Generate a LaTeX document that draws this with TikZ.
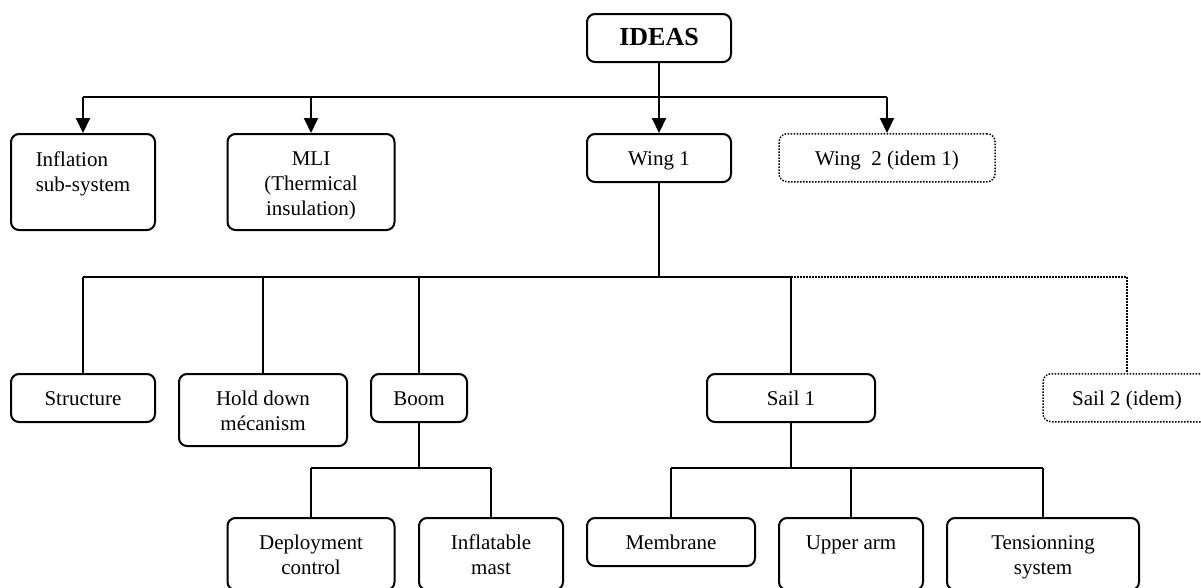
\documentclass[tikz,border=0pt]{standalone}
\usepackage{fontspec}
\setmainfont{Liberation Serif}
\usetikzlibrary{arrows.meta}
\tikzset{
  box/.style={draw, line width=2pt, rounded corners=8pt, anchor=north, align=center,
    inner xsep=4pt, inner ysep=0pt, minimum height=48pt},
  dotbox/.style={box, line width=1.5pt, dash pattern=on 1.5pt off 1.5pt},
  link/.style={line width=2pt},
  dotlink/.style={line width=1.5pt, dash pattern=on 1.5pt off 1.5pt},
  arr/.style={link, -{Triangle[length=15pt,width=14pt]}},
}
\newcommand{\stl}{\rule[-5pt]{0pt}{25pt}}
\newcommand{\stlow}{\rule[-3pt]{0pt}{25pt}}
\begin{document}
\lineskiplimit=-20pt
\begin{tikzpicture}[x=1pt, y=-1pt, font=\fontsize{21}{25}\selectfont]
\useasboundingbox (0,0) rectangle (1201,587);
% top level
\node[box, minimum width=144pt] (ideas) at (659,13) {\fontsize{26}{30}\selectfont\rule[-8pt]{0pt}{30pt}\textbf{IDEAS}};
\node[box, minimum width=144pt, minimum height=96pt, align=left] (infl) at (83,133) {\stlow Inflation\\\stlow sub-system\\\stlow};
\node[box, minimum width=167pt, minimum height=96pt] (mli) at (311,133) {\stlow MLI\\\stlow (Thermical\\\stlow insulation)};
\node[box, minimum width=144pt] (wing1) at (659,133) {\stl Wing 1};
\node[dotbox, minimum width=216pt] (wing2) at (887,133) {\stl Wing\ \ 2 (idem 1)};
% second level
\node[box, minimum width=144pt] (struct) at (83,373) {\stl Structure};
\node[box, minimum width=168pt, minimum height=72pt] (hold) at (263,373) {\stl Hold down\\\stl m\'ecanism};
\node[box, minimum width=96pt] (boom) at (419,373) {\stl Boom};
\node[box, minimum width=168pt] (sail1) at (791,373) {\stl Sail 1};
\node[dotbox, minimum width=168pt] (sail2) at (1127,373) {\stl Sail 2 (idem)};
% third level
\node[box, minimum width=167pt, minimum height=72pt] (deploy) at (311,517) {\stl Deployment\\\stl control};
\node[box, minimum width=144pt, minimum height=72pt] (mast) at (491,517) {\stl Inflatable\\\stl mast};
\node[box, minimum width=168pt] (membr) at (671,517) {\stl Membrane};
\node[box, minimum width=144pt, minimum height=72pt] (upper) at (851,517) {\stl Upper arm\\\stl};
\node[box, minimum width=192pt, minimum height=72pt] (tens) at (1043,517) {\stl Tensionning\\\stl system};
% connectors, top level
\coordinate (j1) at (659,97);
\draw[link] (infl.north |- j1) -- (wing2.north |- j1);
\draw[arr] (infl.north |- j1) -- (infl.north);
\draw[arr] (mli.north |- j1) -- (mli.north);
\draw[arr] (ideas.south) -- (wing1.north);
\draw[arr] (wing2.north |- j1) -- (wing2.north);
% wing 1 subtree
\coordinate (j2) at (659,277);
\draw[link] (wing1.south) -- (j2);
\draw[link] (struct.north |- j2) -- (sail1.north |- j2);
\draw[link] (struct.north |- j2) -- (struct.north);
\draw[link] (hold.north |- j2) -- (hold.north);
\draw[link] (boom.north |- j2) -- (boom.north);
\draw[link] (sail1.north |- j2) -- (sail1.north);
\draw[dotlink] (sail1.north |- j2) -- (sail2.north |- j2) -- (sail2.north);
% boom subtree
\coordinate (j3) at (419,468);
\draw[link] (boom.south) -- (j3);
\draw[link] (deploy.north |- j3) -- (mast.north |- j3);
\draw[link] (deploy.north |- j3) -- (deploy.north);
\draw[link] (mast.north |- j3) -- (mast.north);
% sail 1 subtree
\coordinate (j4) at (791,468);
\draw[link] (sail1.south) -- (j4);
\draw[link] (membr.north |- j4) -- (tens.north |- j4);
\draw[link] (membr.north |- j4) -- (membr.north);
\draw[link] (upper.north |- j4) -- (upper.north);
\draw[link] (tens.north |- j4) -- (tens.north);
\end{tikzpicture}
\end{document}
